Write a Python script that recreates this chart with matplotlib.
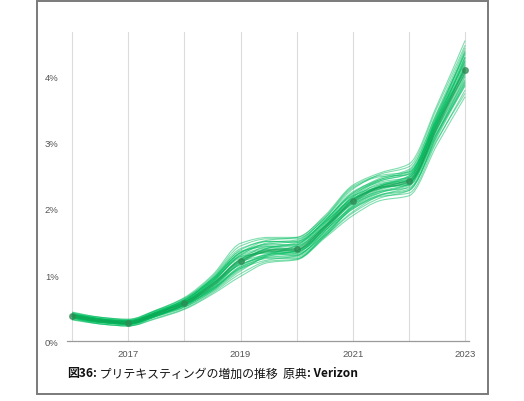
import matplotlib
matplotlib.use("Agg")
import matplotlib.pyplot as plt
import numpy as np
from matplotlib.path import Path
from matplotlib.patches import PathPatch, Rectangle
from matplotlib.offsetbox import TextArea, HPacker, AnnotationBbox

# half-year knots of the trend line (share of incidents, %)
knots = [2016, 2016.5, 2017, 2017.5, 2018, 2018.5, 2019, 2019.5,
         2020, 2020.5, 2021, 2021.5, 2022, 2022.5, 2023]
trend = [0.38, 0.31, 0.28, 0.41, 0.57, 0.85, 1.22, 1.37,
         1.39, 1.72, 2.12, 2.33, 2.42, 3.25, 4.10]
year_ticks = [2017, 2019, 2021, 2023]
y_ticks = [0, 1, 2, 3, 4]

# sampled curves around the trend, deviation in hundredths of a percent
samples = [
    [3, 3, 2, 3, 5, 7, 10, 8, 7, 9, 12, 10, 11, 14, 20],
    [-3, -2, -3, -4, -6, -9, -14, -10, -9, -10, -12, -11, -12, -16, -22],
    [2, 0, -2, 2, 3, 11, 18, 14, 10, 6, 4, 2, 5, 10, 15],
    [-2, -3, -2, 0, 2, -5, -10, -12, -14, -10, -6, -2, 4, 12, 28],
    [5, 5, 4, 5, 7, 13, 22, 18, 16, 14, 18, 20, 22, 28, 38],
    [-5, -5, -5, -6, -8, -12, -20, -16, -15, -14, -18, -16, -14, -20, -35],
    [0, 2, 2, 0, -2, 3, 6, 2, -3, -5, -8, -6, -4, 2, 8],
    [3, 2, 0, -2, -3, -7, -8, -4, 2, 6, 10, 8, 6, 4, -6],
    [-3, -3, -2, 2, 5, 8, 12, 10, 12, 14, 20, 16, 10, 6, 0],
    [2, 3, 3, 5, 3, 2, 0, -2, -4, -2, 0, 4, 8, 16, 30],
    [0, -2, 0, -2, -5, -10, -16, -8, -2, 2, -2, -6, -10, -14, -18],
    [-2, 0, 2, 3, 6, 9, 14, 6, 0, -4, -10, -12, -14, -12, -10],
    [5, 3, 3, 2, 0, -2, -4, 4, 8, 10, 14, 12, 16, 20, 26],
    [-5, -3, -3, -3, -2, -6, -12, -14, -10, -6, 2, 6, 2, -4, -14],
    [2, 2, 0, 0, 2, 5, 8, 12, 14, 12, 8, 0, -6, -10, -20],
    [-2, -2, -3, -3, -5, -3, 2, 0, -6, -12, -16, -12, -8, -2, 6],
    [3, 5, 5, 6, 8, 10, 16, 16, 18, 16, 22, 18, 14, 8, 4],
    [0, 0, -2, -3, -3, -8, -10, -6, -4, -8, -12, -14, -18, -22, -30],
    [-3, -5, -5, -3, 0, 6, 4, -2, -8, -6, -2, 2, 6, 10, 14],
    [2, 0, 0, 2, 0, -4, -6, -10, -12, -14, -10, -8, -4, 4, 18],
    [0, 2, 3, 3, 5, 7, 12, 10, 6, 4, 6, 10, 12, 18, 24],
    [-2, -2, 0, -2, -3, -5, -2, 4, 10, 8, 4, -2, -2, -8, -16],
    [3, 3, 2, 0, -2, 0, 2, 6, 4, 0, -4, 2, 8, 14, 12],
    [-3, -2, -2, 0, 3, 5, 6, -4, -10, -12, -8, -4, 0, 6, 10],
    [6, 5, 5, 6, 9, 15, 26, 20, 18, 18, 24, 22, 26, 32, 45],
    [-6, -5, -5, -7, -9, -14, -24, -18, -16, -16, -22, -20, -22, -28, -40],
    [2, 0, 0, -2, 0, 1, -2, -6, -2, 2, 8, 12, 14, 10, 2],
    [0, 0, 2, 3, 2, -1, -4, 0, 4, 2, -4, -8, -6, 0, -4],
    [-2, 0, 0, 2, 2, 4, 8, 4, -2, 0, 6, 4, 0, -4, -8],
    [2, 2, -2, -3, -2, -7, -12, -6, 6, 10, 12, 14, 18, 22, 34],
    [0, -2, -2, 0, 3, 2, -6, -8, -6, -2, 2, 0, -4, -10, -24],
    [3, 2, 2, 3, 5, 9, 12, 14, 12, 8, 2, 0, 2, 8, 20],
]

CAPTION = [("図36:", "bold"), (" プリテキスティングの増加の推移  原典", "normal"),
           (": Verizon", "bold")]
CJK = ["Noto Sans CJK JP", "DejaVu Sans"]


def smooth_path(xs, ys):
    """Monotone cubic (PCHIP-style tangents) drawn as Bezier segments."""
    x = np.asarray(xs, float)
    y = np.asarray(ys, float)
    h = np.diff(x)
    d = np.diff(y) / h
    m = np.zeros_like(y)
    m[0], m[-1] = d[0], d[-1]
    for i in range(1, len(y) - 1):
        if d[i - 1] * d[i] > 0:
            m[i] = 2 / (1 / d[i - 1] + 1 / d[i])
    verts, codes = [(x[0], y[0])], [Path.MOVETO]
    for i in range(len(x) - 1):
        verts += [(x[i] + h[i] / 3, y[i] + m[i] * h[i] / 3),
                  (x[i + 1] - h[i] / 3, y[i + 1] - m[i + 1] * h[i] / 3),
                  (x[i + 1], y[i + 1])]
        codes += [Path.CURVE4] * 3
    return Path(verts, codes)


fig = plt.figure(figsize=(5.24, 4.02), dpi=100)
ax = fig.add_axes([0.128, 0.149, 0.767, 0.769])

for dev in samples:
    ys = np.array(trend) + np.array(dev) / 100
    ax.add_patch(PathPatch(smooth_path(knots, ys), fill=False,
                           edgecolor="#00bd5e", lw=0.8, alpha=0.5, zorder=2))

ax.add_patch(PathPatch(smooth_path(knots, trend), fill=False,
                       edgecolor="#129c50", lw=2.2, alpha=0.55, zorder=3,
                       capstyle="round"))
ax.plot(knots[::2], trend[::2], "o", ms=4, color="#2f8a55", alpha=0.7, zorder=4)

ax.set_xlim(2015.91, 2023.07)
ax.set_ylim(0, 4.68)
ax.set_xticks(range(2016, 2024))
ax.set_xticklabels([str(y) if y in year_ticks else "" for y in range(2016, 2024)])
ax.set_yticks(y_ticks)
ax.set_yticklabels([f"{v}%" for v in y_ticks])
ax.grid(axis="x", color="#dcdcdc", lw=0.8)
ax.set_axisbelow(True)
for side in ("top", "right", "left"):
    ax.spines[side].set_visible(False)
ax.spines["bottom"].set_color("#9a9a9a")
ax.spines["bottom"].set_linewidth(0.9)
ax.tick_params(length=0, labelsize=6.8, labelcolor="#555555", pad=6)
for lab in ax.get_xticklabels() + ax.get_yticklabels():
    lab.set_family("Liberation Sans")

# caption built from bold / regular pieces
parts = [TextArea(t, textprops=dict(family=CJK, fontsize=8.6, fontweight=w,
                                    color="#111111")) for t, w in CAPTION]
box = HPacker(children=parts, pad=0, sep=0, align="baseline")
fig.add_artist(AnnotationBbox(box, (67 / 524, 1 - 374 / 402),
                              xycoords="figure fraction", box_alignment=(0, 0.5),
                              frameon=False, pad=0))

fig.add_artist(Rectangle((37 / 524, 7 / 402), 451 / 524, 393 / 402,
                         transform=fig.transFigure, fill=False,
                         edgecolor="#7a7a7a", lw=1.4))

fig.savefig("out.png", dpi=100)
